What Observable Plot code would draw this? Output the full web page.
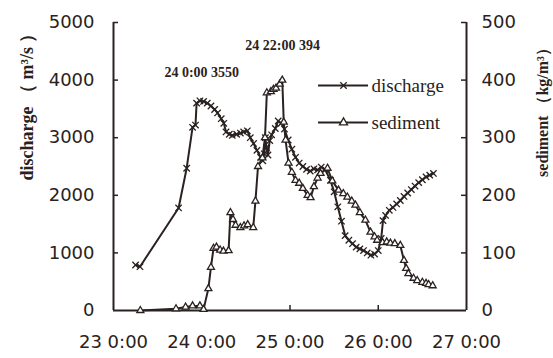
<!DOCTYPE html>
<html>
<head>
<meta charset="utf-8">
<script src="https://cdn.jsdelivr.net/npm/d3@7"></script>
<script src="https://cdn.jsdelivr.net/npm/@observablehq/plot@0.6"></script>
<style>
  html, body { margin: 0; padding: 0; background: #fff; }
  #wrap { position: relative; width: 553px; height: 358px; }
  #legend { position: absolute; left: 314px; top: 62px; }
</style>
</head>
<body>
<div id="wrap"><div id="chart"></div><div id="legend"></div></div>
<script>
// Hours after "23 0:00"
const dischargeHours = [6, 7.2, 17.7, 19.9, 21.5, 22.3, 22.6, 23.5, 24.5, 25.5, 26.5, 27.5, 28.3, 29.3, 30, 30.6, 31.5, 32.3, 33.5, 34.5, 35.4, 36.4, 37.2, 38.1, 39, 40, 40.6, 41, 41.3, 41.6, 42, 42.5, 43, 44, 44.8, 45.6, 46.5, 47.5, 48.5, 49.5, 50.5, 51.5, 52.5, 53.5, 54.5, 55.5, 56.5, 57.5, 59, 60, 61, 62, 63, 64, 65, 66, 67, 68, 69, 70, 71, 72, 72.8, 73.3, 74, 75, 76, 77, 78, 79, 80, 81, 82, 83, 84, 85, 86, 87];
const dischargeValues = [790, 760, 1780, 2470, 3180, 3220, 3600, 3640, 3630, 3600, 3550, 3490, 3430, 3330, 3250, 3100, 3060, 3040, 3060, 3080, 3100, 3120, 3000, 2900, 2780, 2660, 2600, 2720, 3000, 2830, 2700, 2950, 3050, 3160, 3290, 3250, 3150, 2960, 2800, 2660, 2560, 2500, 2450, 2420, 2460, 2440, 2490, 2450, 2260, 2060, 1800, 1550, 1300, 1220, 1160, 1100, 1070, 1040, 1000, 960, 980, 1040, 1250, 1560, 1650, 1740, 1790, 1850, 1910, 1980, 2040, 2100, 2160, 2220, 2270, 2320, 2350, 2380];

const sedimentHours = [7.3, 17, 19.6, 21.5, 23.5, 24.5, 25.8, 26.5, 27.2, 28, 29, 29.9, 31.3, 31.8, 32.5, 33.2, 34.5, 35.5, 36.5, 38, 38.6, 39.3, 40.5, 41.2, 41.7, 42.8, 43.5, 44.2, 45.2, 45.9, 46.3, 46.8, 47.6, 48.5, 49.5, 50.5, 51.5, 52.8, 53.6, 54.5, 55.5, 56.3, 58.2, 59.5, 61.2, 62.5, 63.6, 64.8, 65.8, 67, 68.5, 69.9, 71, 71.7, 73.2, 74.3, 75.3, 76.5, 78, 79, 79.6, 80.2, 81.6, 82.6, 84, 85, 85.7, 86.8];
const sedimentValues = [0, 3, 6, 8, 8, 2, 38, 75, 108, 110, 105, 103, 104, 170, 158, 148, 144, 147, 149, 144, 190, 250, 265, 300, 378, 380, 384, 386, 393, 400, 327, 296, 256, 240, 226, 221, 212, 200, 196, 215, 230, 238, 247, 225, 209, 203, 197, 190, 183, 170, 157, 136, 128, 122, 118, 119, 117, 116, 113, 87, 73, 64, 56, 52, 49, 47, 45, 43];

const xTickHours = [0, 24, 48, 72, 96];
const xTickLabels = ["23 0:00", "24 0:00", "25 0:00", "26 0:00", "27 0:00"];
const dischargeTicks = [0, 1000, 2000, 3000, 4000, 5000];
const sedimentTicks = [0, 100, 200, 300, 400, 500];
const seriesNames = ["discharge", "sediment"];
const seriesSymbols = ["times", "triangle"];
const annotationHours = [24, 46];
const annotationValues = [3550, 394];
const annotationLabels = ["24 0:00 3550", "24 22:00 394"];
const leftTitle = "discharge （ m³/s ）";
const rightTitle = "sediment （kg/m³）";

const K = 10; // sediment -> discharge scale ratio (500 <-> 5000)
const discharge = dischargeHours.map((h, i) => ({h, v: dischargeValues[i]}));
const sediment = sedimentHours.map((h, i) => ({h, v: sedimentValues[i] * K}));
const annQ = [{h: annotationHours[0], v: annotationValues[0], label: annotationLabels[0]}];
const annS = [{h: annotationHours[1], v: annotationValues[1] * K, label: annotationLabels[1]}];

const ink = "#2a2220";
const serif = "'Liberation Serif', 'DejaVu Serif', serif";
const W = 553, H = 358, ML = 113, MR = 87, MT = 22, MB = 48;
const FW = W - ML - MR, FH = H - MT - MB, TL = 5;

const chart = Plot.plot({
  width: W, height: H,
  marginLeft: ML, marginRight: MR, marginTop: MT, marginBottom: MB,
  x: {domain: [0, 96]},
  y: {domain: [0, 5000]},
  style: {fontFamily: "'DejaVu Sans', sans-serif", fontSize: "18px", color: ink, background: "#fff", overflow: "visible"},
  marks: [
    Plot.ruleX([0, 96], {stroke: ink, strokeWidth: 2}),
    Plot.ruleY([0], {stroke: ink, strokeWidth: 2}),
    Plot.axisX({ticks: xTickHours, tickFormat: d => xTickLabels[xTickHours.indexOf(d)], tickSize: 0, tickPadding: 25, label: null, fontSize: 18}),
    Plot.axisY({anchor: "left", ticks: dischargeTicks, tickFormat: d => String(d), tickSize: 0, tickPadding: 19, label: null, fontSize: 18}),
    Plot.axisY({anchor: "right", ticks: sedimentTicks.map(d => d * K), tickFormat: d => String(d / K), tickSize: 0, tickPadding: 15, label: null, fontSize: 18}),
    // inward tick marks
    Plot.ruleY(dischargeTicks.slice(1), {insetRight: FW - TL, stroke: ink, strokeWidth: 1.5}),
    Plot.ruleY(sedimentTicks.slice(1).map(d => d * K), {insetLeft: FW - TL, stroke: ink, strokeWidth: 1.5}),
    Plot.ruleX(xTickHours.slice(1, -1), {insetTop: FH - TL, stroke: ink, strokeWidth: 1.5}),
    // series
    Plot.line(discharge, {x: "h", y: "v", stroke: ink, strokeWidth: 2}),
    Plot.dot(discharge, {x: "h", y: "v", symbol: "times", r: 3, stroke: ink, strokeWidth: 1.3}),
    Plot.line(sediment, {x: "h", y: "v", stroke: ink, strokeWidth: 2}),
    Plot.dot(sediment, {x: "h", y: "v", symbol: "triangle", r: 2.6, stroke: ink, fill: "#fff", strokeWidth: 1.3}),
    // annotations
    Plot.text(annQ, {x: "h", y: "v", text: "label", dy: -34, fontFamily: serif, fontSize: 14, fontWeight: "bold", fill: ink}),
    Plot.text(annS, {x: "h", y: "v", text: "label", dy: -38, fontFamily: serif, fontSize: 14, fontWeight: "bold", fill: ink}),
    // axis titles
    Plot.text([leftTitle], {frameAnchor: "top-left", dx: -93, dy: 80, rotate: -90, fontFamily: serif, fontSize: 18, fontWeight: "bold", fill: ink, textAnchor: "middle"}),
    Plot.text([rightTitle], {frameAnchor: "top-right", dx: 70, dy: 86, rotate: -90, fontFamily: serif, fontSize: 16, fontWeight: "bold", fill: ink, textAnchor: "middle"})
  ]
});
document.getElementById("chart").appendChild(chart);

// Legend (line + symbol + name), as a small Plot overlaid inside the frame
const legendRows = seriesNames.map((name, i) => ({name, symbol: seriesSymbols[i]}));
const legend = Plot.plot({
  width: 140, height: 80,
  marginLeft: 4, marginRight: 86, marginTop: 0, marginBottom: 0,
  x: {domain: [0, 1], axis: null},
  y: {domain: seriesNames, axis: null, range: [23, 60], padding: 0},
  symbol: {domain: seriesSymbols, range: seriesSymbols},
  style: {background: "transparent", overflow: "visible"},
  marks: [
    Plot.ruleY(legendRows, {y: "name", x1: 0, x2: 1, stroke: ink, strokeWidth: 2}),
    Plot.dot(legendRows, {y: "name", x: () => 0.5, symbol: "symbol", r: 3, stroke: ink, fill: "#fff", strokeWidth: 1.3}),
    Plot.text(legendRows, {y: "name", x: () => 1, text: "name", dx: 3, textAnchor: "start", fontFamily: serif, fontSize: 19, fill: ink})
  ]
});
document.getElementById("legend").appendChild(legend);
</script>
</body>
</html>
